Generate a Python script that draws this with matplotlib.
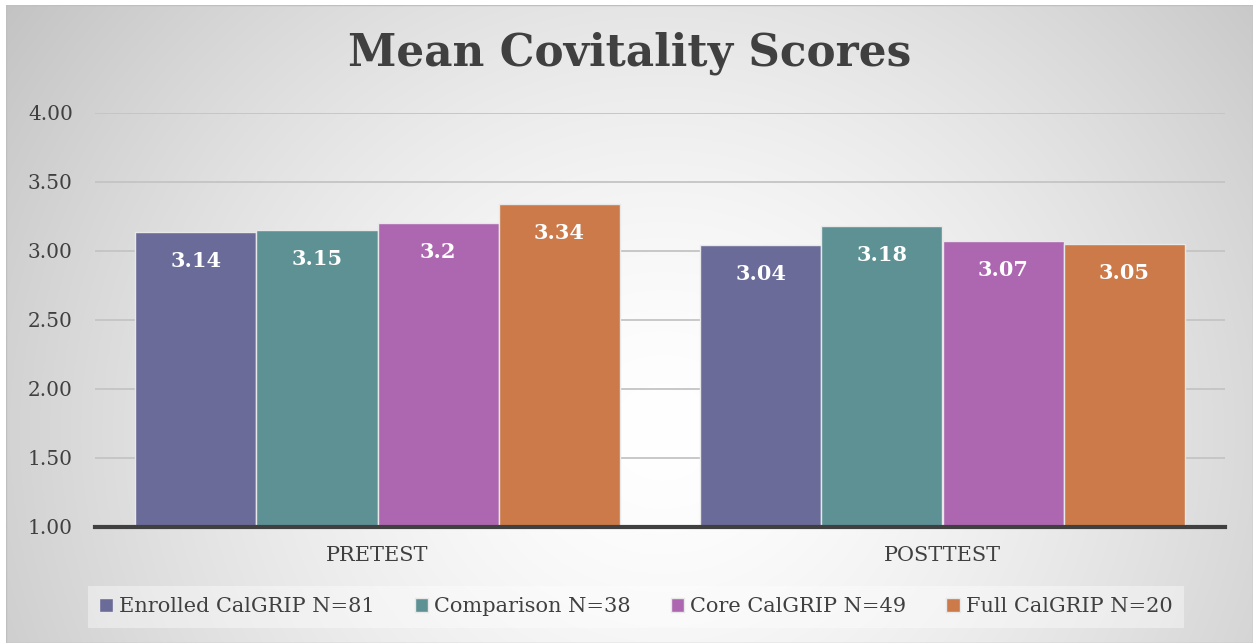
import numpy as np
import matplotlib.pyplot as plt
from matplotlib.patches import Rectangle

# data
categories = ['PRETEST', 'POSTTEST']
series_names = ['Enrolled CalGRIP N=81', 'Comparison N=38', 'Core CalGRIP N=49', 'Full CalGRIP N=20']
enrolled = [3.14, 3.04]
comparison = [3.15, 3.18]
core = [3.20, 3.07]
full = [3.34, 3.05]
label_text = [['3.14', '3.04'], ['3.15', '3.18'], ['3.2', '3.07'], ['3.34', '3.05']]
yticks = [1.00, 1.50, 2.00, 2.50, 3.00, 3.50, 4.00]

colors = ['#6a6b98', '#5d9194', '#ad67b0', '#cc7a4a']
dark = '#404040'
serif = ['DejaVu Serif']

W, H = 1253, 643
fig = plt.figure(figsize=(W / 100, H / 100), dpi=100)
fig.patch.set_facecolor('white')

# radial grey background, white near the lower middle
bg = fig.add_axes([6 / W, 0, 1 - 6 / W, 1 - 5 / H])
yy, xx = np.mgrid[0:H, 0:W]
d = np.sqrt(((xx - 660) / 700.0) ** 2 + ((yy - 430) / 650.0) ** 2)
g = np.clip(1.0 - 0.19 * d ** 1.5, 0.74, 1.0)
bg.imshow(np.dstack([g, g, g]), aspect='auto', extent=[0, 1, 0, 1])
bg.set_xlim(0, 1)
bg.set_ylim(0, 1)
bg.axis('off')
bg.add_patch(Rectangle((0, 0), 1, 1, transform=bg.transAxes, fill=False,
                       edgecolor='#bfbfbf', linewidth=1))

ax = fig.add_axes([95 / W, (H - 526.5) / H, 1130 / W, 413.5 / H])
ax.set_facecolor('none')

series = [enrolled, comparison, core, full]
x = np.arange(len(categories))
w = 0.2146
for i, vals in enumerate(series):
    xs = x + (i - 1.5) * w
    ax.bar(xs, np.array(vals) - 1, bottom=1, width=w, color=colors[i],
           edgecolor='#e8e8e8', linewidth=1, label=series_names[i], zorder=3)
    for j, v in enumerate(vals):
        ax.annotate(label_text[i][j], (xs[j], v), xytext=(0, -21), textcoords='offset points',
                    ha='center', va='center', color='white', fontsize=15,
                    fontweight='bold', family=serif, zorder=4)

ax.set_xlim(-0.5, 1.5)
ax.set_ylim(1, 4)
ax.set_yticks(yticks)
ax.set_yticklabels(['%.2f' % t for t in yticks], family=serif, fontsize=14.5, color=dark)
ax.set_xticks(x)
ax.set_xticklabels(categories, family=serif, fontsize=15, color=dark)
ax.tick_params(axis='both', length=0)
ax.tick_params(axis='y', pad=16)
ax.tick_params(axis='x', pad=14)
ax.yaxis.grid(True, color='#c4c4c4', linewidth=1.3, zorder=0)
ax.set_axisbelow(True)
for s in ['top', 'right', 'left']:
    ax.spines[s].set_visible(False)
ax.spines['bottom'].set_color(dark)
ax.spines['bottom'].set_linewidth(3)
ax.spines['bottom'].set_zorder(5)

fig.text(630 / W, 1 - 53 / H, 'Mean Covitality Scores', ha='center', va='center',
         fontsize=31.5, fontweight='bold', color=dark, family=serif)

leg = fig.legend(loc='center', bbox_to_anchor=(636 / W, 1 - 607 / H), ncol=4,
                 frameon=True, fancybox=False, prop={'family': serif, 'size': 15},
                 handlelength=0.65, handleheight=0.65, handletextpad=0.3,
                 columnspacing=1.9, borderpad=0.55)
leg.get_frame().set_facecolor('white')
leg.get_frame().set_alpha(0.4)
leg.get_frame().set_edgecolor('none')
for t in leg.get_texts():
    t.set_color(dark)

fig.savefig('out.png', dpi=100)
